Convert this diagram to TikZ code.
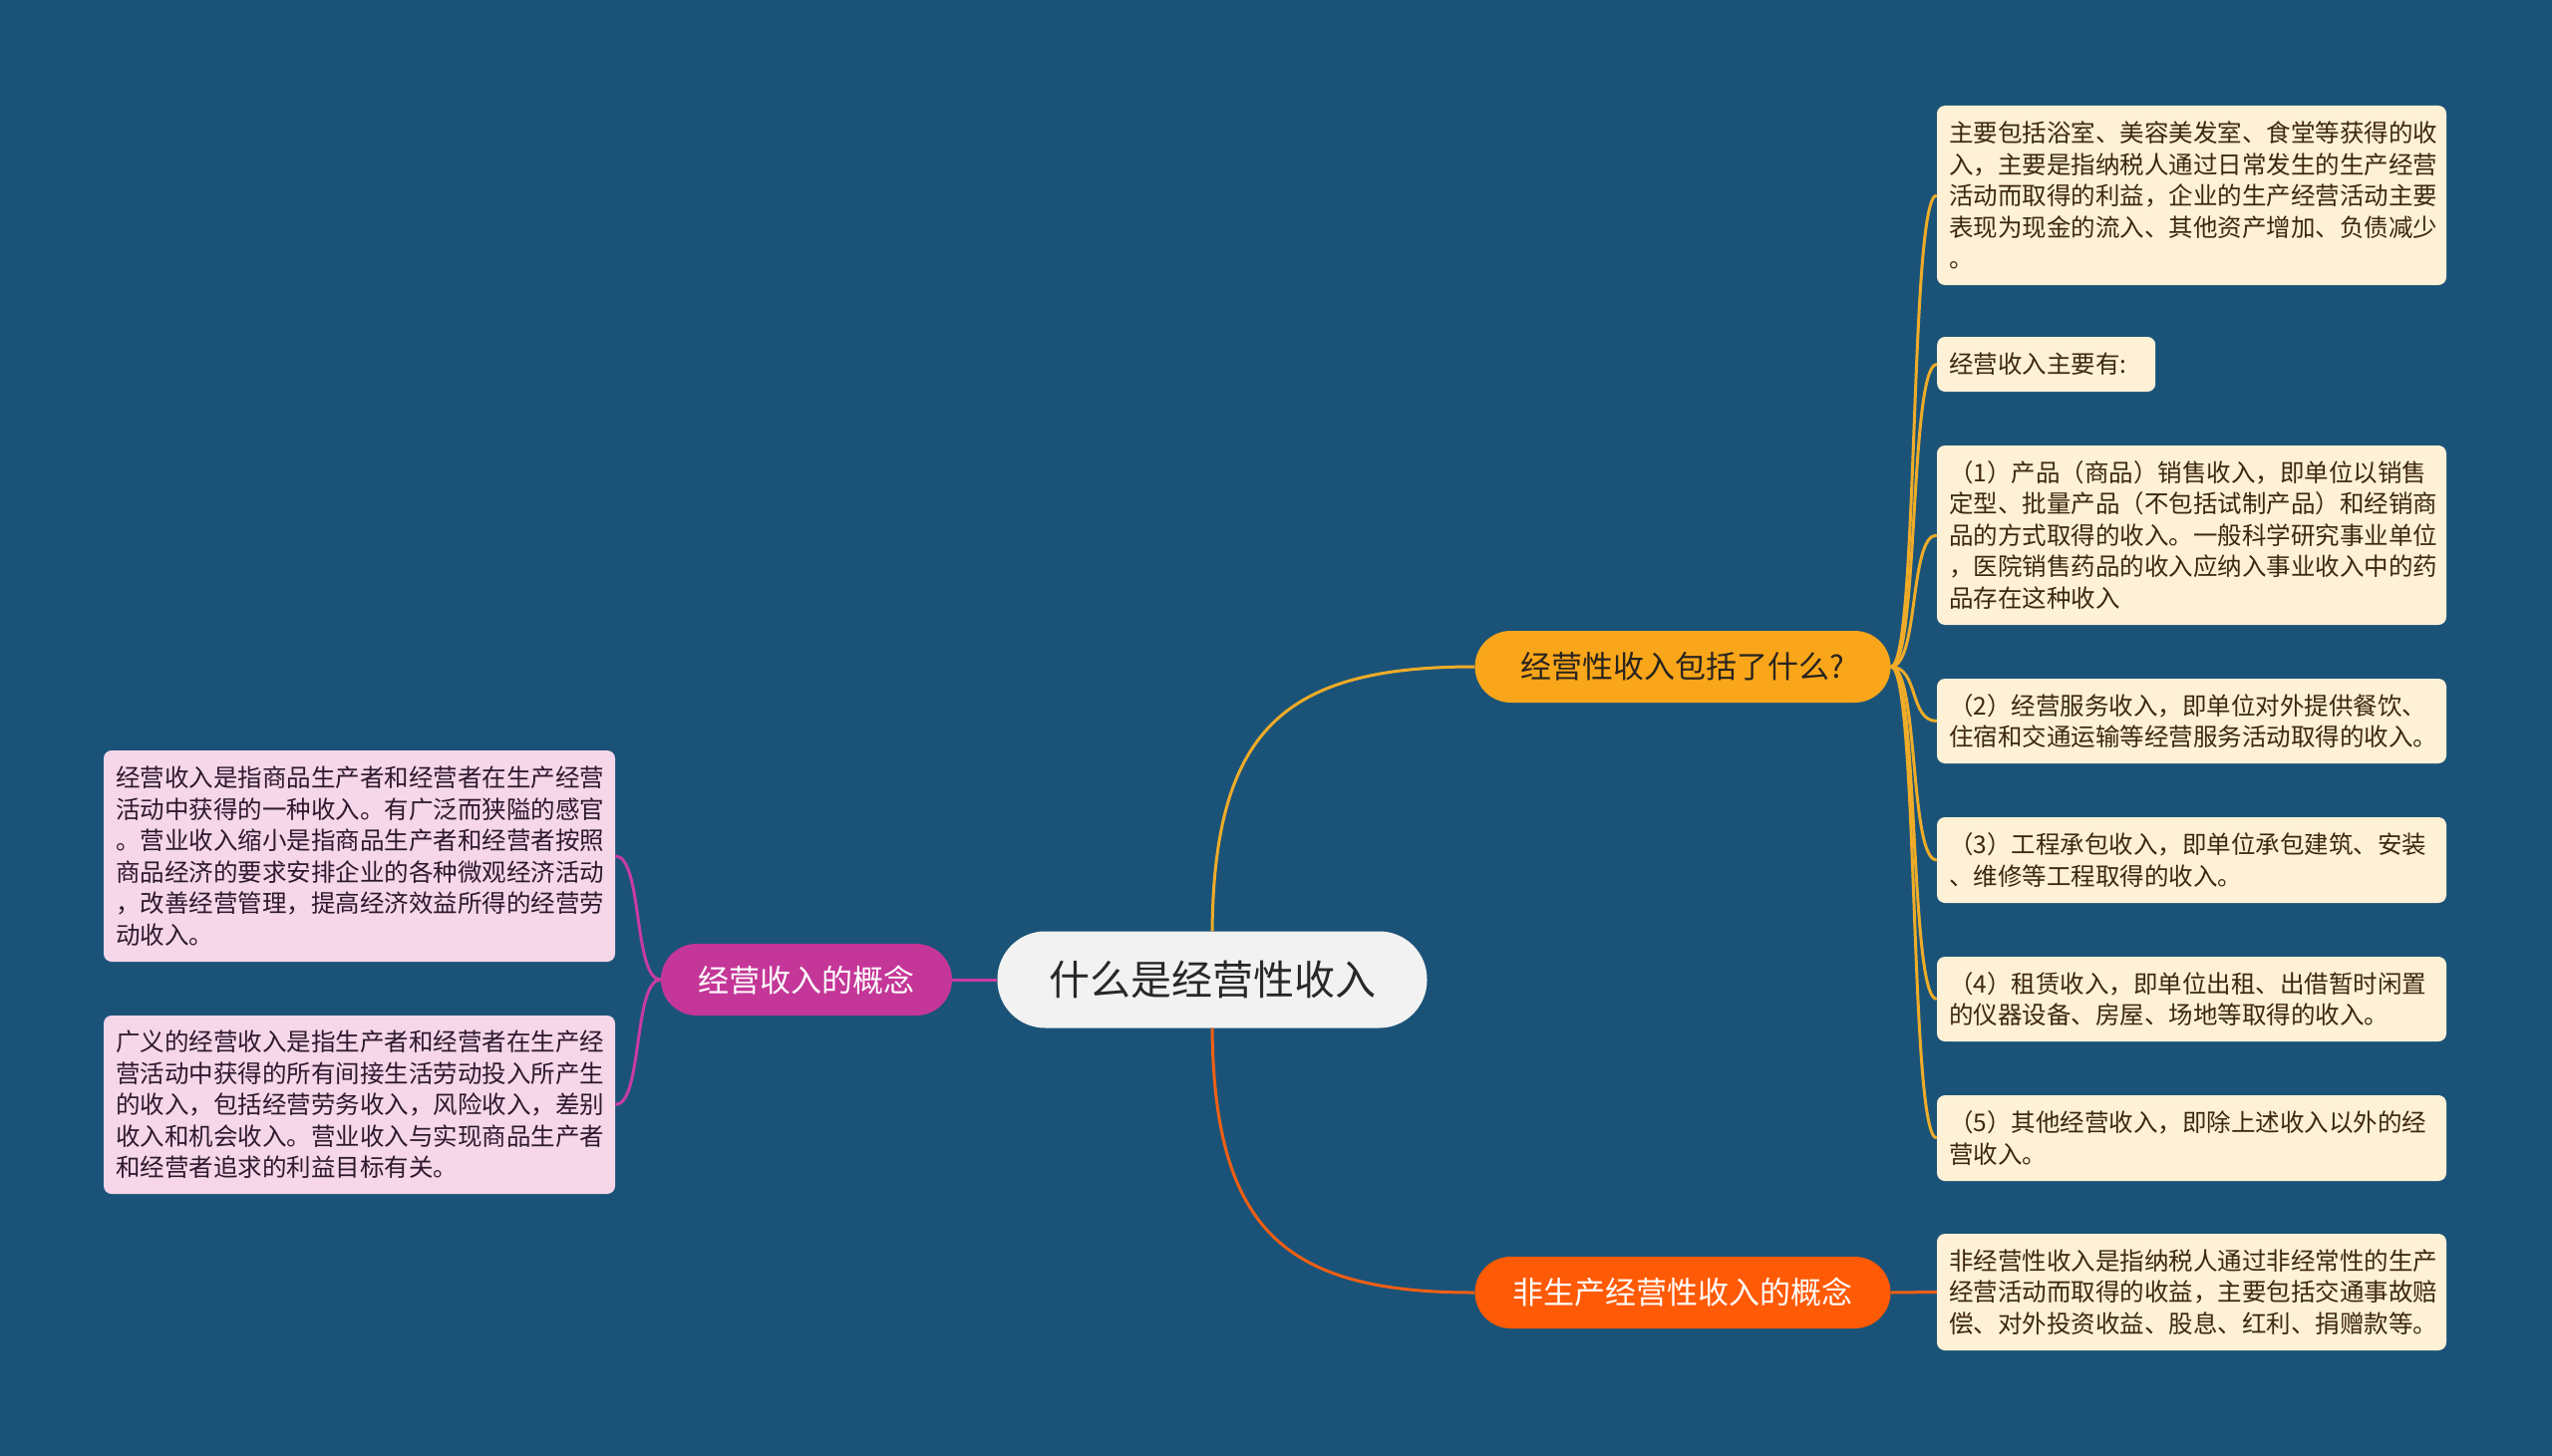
\documentclass[tikz,border=0pt]{standalone}
\usepackage{fontspec}
\setmainfont{Noto Sans CJK SC}
\definecolor{bgc}{RGB}{27,83,120}
\definecolor{creamc}{RGB}{255,241,214}
\definecolor{pinkc}{RGB}{246,214,233}
\definecolor{magc}{RGB}{196,54,152}
\definecolor{orgA}{RGB}{250,166,26}
\definecolor{orgB}{RGB}{255,90,5}
\definecolor{rootc}{RGB}{242,242,242}
\definecolor{lnA}{RGB}{238,172,40}
\definecolor{lnB}{RGB}{240,95,20}
\definecolor{lnM}{RGB}{200,60,160}
\definecolor{brownt}{RGB}{60,40,15}
\definecolor{plumt}{RGB}{45,25,45}
\newcommand\leaffnt{\fontsize{24.5}{31.5}\selectfont}
\tikzset{
  leafR/.style={rounded corners=8, fill=creamc, text=brownt, font=\leaffnt, text width=487, inner xsep=12, inner ysep=0, minimum width=511, align=left},
  leafL/.style={rounded corners=8, fill=pinkc, text=plumt, font=\leaffnt, text width=489, inner xsep=12, inner ysep=0, minimum width=513, align=left},
  branchbox/.style={rounded corners=36, minimum height=72, inner sep=0, font=\fontsize{31}{36}\selectfont},
  conn/.style={line width=3pt},
}
\begin{document}
\begin{tikzpicture}[x=1pt,y=-1pt]
\useasboundingbox (0,0) rectangle (2560,1461);
\fill[bgc] (0,0) rectangle (2560,1461);

% root and branches
\node[rounded corners=48, fill=rootc, text={rgb,255:red,40;green,40;blue,40}, minimum width=431, minimum height=97, inner sep=0, font=\fontsize{41}{46}\selectfont] (root) at (1216,983) {什么是经营性收入};
\node[branchbox, fill=orgA, text={rgb,255:red,40;green,35;blue,30}, minimum width=417] (b1) at (1688,669) {经营性收入包括了什么?};
\node[branchbox, fill=orgB, text=white, minimum width=417] (b2) at (1688,1297) {非生产经营性收入的概念};
\node[branchbox, fill=magc, text=white, minimum width=292] (b3) at (809,983) {经营收入的概念};

% right leaves
\node[leafR, minimum height=180] (r1) at (2198.5,196) {主要包括浴室、美容美发室、食堂等获得的收\\入，主要是指纳税人通过日常发生的生产经营\\活动而取得的利益，企业的生产经营活动主要\\表现为现金的流入、其他资产增加、负债减少\\。};
\node[rounded corners=8, fill=creamc, text=brownt, font=\leaffnt, text width=195, inner xsep=12, inner ysep=0, minimum width=219, minimum height=55, align=left, anchor=west] (r2) at (1943,365.5) {经营收入主要有:};
\node[leafR, minimum height=180] (r3) at (2198.5,537) {（1）产品（商品）销售收入，即单位以销售\\定型、批量产品（不包括试制产品）和经销商\\品的方式取得的收入。一般科学研究事业单位\\，医院销售药品的收入应纳入事业收入中的药\\品存在这种收入};
\node[leafR, minimum height=85] (r4) at (2198.5,723.5) {（2）经营服务收入，即单位对外提供餐饮、\\住宿和交通运输等经营服务活动取得的收入。};
\node[leafR, minimum height=86] (r5) at (2198.5,863) {（3）工程承包收入，即单位承包建筑、安装\\、维修等工程取得的收入。};
\node[leafR, minimum height=85] (r6) at (2198.5,1002.5) {（4）租赁收入，即单位出租、出借暂时闲置\\的仪器设备、房屋、场地等取得的收入。};
\node[leafR, minimum height=86] (r7) at (2198.5,1142) {（5）其他经营收入，即除上述收入以外的经\\营收入。};
\node[leafR, minimum height=117] (r8) at (2198.5,1296.5) {非经营性收入是指纳税人通过非经常性的生产\\经营活动而取得的收益，主要包括交通事故赔\\偿、对外投资收益、股息、红利、捐赠款等。};

% left leaves
\node[leafL, minimum height=212] (l1) at (360.5,859) {经营收入是指商品生产者和经营者在生产经营\\活动中获得的一种收入。有广泛而狭隘的感官\\。营业收入缩小是指商品生产者和经营者按照\\商品经济的要求安排企业的各种微观经济活动\\，改善经营管理，提高经济效益所得的经营劳\\动收入。};
\node[leafL, minimum height=179] (l2) at (360.5,1108.5) {广义的经营收入是指生产者和经营者在生产经\\营活动中获得的所有间接生活劳动投入所产生\\的收入，包括经营劳务收入，风险收入，差别\\收入和机会收入。营业收入与实现商品生产者\\和经营者追求的利益目标有关。};

% connectors
\draw[conn, lnA] (root.north) .. controls (1218,730) and (1290,669) .. (b1.west);
\draw[conn, lnB] (root.south) .. controls (1218,1236) and (1290,1297) .. (b2.west);
\draw[conn, lnM] (root.west) -- (b3.east);
\foreach \n in {r1,r2,r3,r4,r5,r6,r7} {
  \draw[conn, lnA] (b1.east) .. controls (1925,669) and (1915,669 |- \n.west) .. (\n.west);
}
\draw[conn, lnB] (b2.east) -- (r8.west);
\foreach \n in {l1,l2} {
  \draw[conn, lnM] (b3.west) .. controls (635,983) and (645,983 |- \n.east) .. (\n.east);
}
\end{tikzpicture}
\end{document}
